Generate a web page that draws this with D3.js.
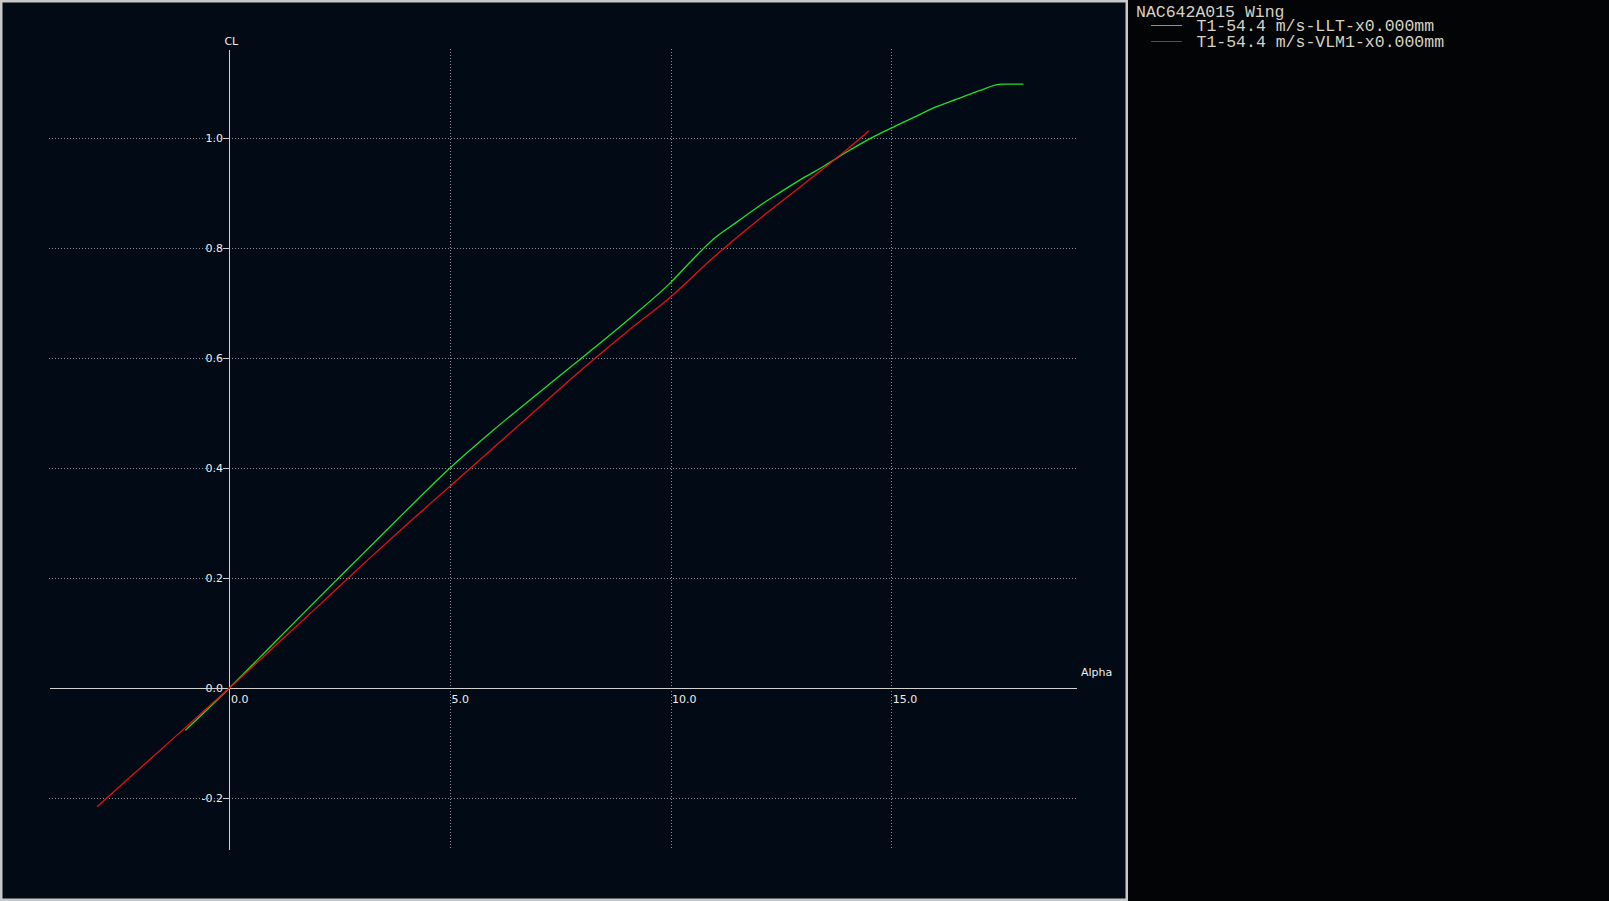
<!DOCTYPE html>
<head>
  <meta charset="utf-8">
  <title>CL vs Alpha</title>
  <script src="https://d3js.org/d3.v7.min.js"></script>
</head>
<body style="margin:0;background:#020406;">
  <script>
    // LLT polar (green)
    var lltAlpha = [-1, 0, 1, 2, 3, 4, 5, 6, 7, 8, 9, 10, 10.5, 11, 11.5, 12, 12.5, 13, 13.5, 14, 14.5, 15, 15.5, 16, 16.5, 17, 17.5, 18];
    var lltCL = [-0.077, 0, 0.081, 0.162, 0.242, 0.322, 0.400, 0.470, 0.536, 0.601, 0.667, 0.737, 0.779, 0.818, 0.847, 0.876, 0.902, 0.927, 0.950, 0.975, 0.998, 1.018, 1.037, 1.056, 1.071, 1.086, 1.098, 1.098];

    // VLM1 polar (red)
    var vlmAlpha = [-3, -2, -1, 0, 1, 2, 3, 4, 5, 6, 7, 8, 9, 10, 11, 12, 13, 14, 14.5];
    var vlmCL = [-0.216, -0.144, -0.072, 0, 0.074, 0.148, 0.223, 0.296, 0.367, 0.438, 0.509, 0.580, 0.647, 0.711, 0.785, 0.852, 0.915, 0.979, 1.013];

    var xTicks = [0, 5, 10, 15];
    var yTicks = [-0.2, 0, 0.2, 0.4, 0.6, 0.8, 1.0];

    var legendTitle = 'NAC642A015 Wing';
    var seriesNames = ['T1-54.4 m/s-LLT-x0.000mm', 'T1-54.4 m/s-VLM1-x0.000mm'];
    var seriesColors = ['#22e022', '#e81010'];

    var width = 1609;
    var height = 901;

    var svg = d3.select('body').append('svg')
      .attr('width', width).attr('height', height)
      .style('display', 'block');

    // plot panel
    svg.append('rect')
      .attr('x', 1.25).attr('y', 1.25)
      .attr('width', 1125.5).attr('height', 898.5)
      .attr('fill', '#010a15')
      .attr('stroke', '#c8c8c8')
      .attr('stroke-width', 2.5);

    var xscale = d3.scaleLinear().domain([-4.09, 19.19]).range([49, 1076]);
    var yscale = d3.scaleLinear().domain([-0.2927, 1.1618]).range([849, 49]);

    var x0 = Math.round(xscale(0)) + 0.5;
    var y0 = Math.round(yscale(0)) + 0.5;

    // plain hyphen for negatives, one decimal
    var fmt = function(d) {return d.toFixed(1);};

    // grid
    svg.append('g').selectAll('line')
      .data(yTicks.filter(function(d) {return d !== 0;}))
      .enter().append('line')
      .attr('x1', 49).attr('x2', 1076)
      .attr('y1', function(d) {return Math.round(yscale(d)) + 0.5;})
      .attr('y2', function(d) {return Math.round(yscale(d)) + 0.5;})
      .attr('stroke', '#8a8f96')
      .attr('stroke-dasharray', '1,2')
      .attr('shape-rendering', 'crispEdges');

    svg.append('g').selectAll('line')
      .data(xTicks.filter(function(d) {return d !== 0;}))
      .enter().append('line')
      .attr('y1', 49).attr('y2', 849)
      .attr('x1', function(d) {return Math.round(xscale(d)) + 0.5;})
      .attr('x2', function(d) {return Math.round(xscale(d)) + 0.5;})
      .attr('stroke', '#8a8f96')
      .attr('stroke-dasharray', '1,2')
      .attr('shape-rendering', 'crispEdges');

    // axes
    var axisy = d3.axisLeft(yscale)
      .tickValues(yTicks)
      .tickSize(6)
      .tickSizeOuter(0)
      .tickFormat(fmt);

    var gy = svg.append('g')
      .attr('transform', 'translate(' + (x0 - 0.5) + ',0)')
      .call(axisy);

    var axisx = d3.axisBottom(xscale)
      .tickValues(xTicks)
      .tickSize(0)
      .tickSizeOuter(0)
      .tickFormat(fmt);

    var gx = svg.append('g')
      .attr('transform', 'translate(0,' + (y0 - 0.5) + ')')
      .call(axisx);

    [gx, gy].forEach(function(g) {
      g.select('.domain').attr('stroke', '#d0d0d0').attr('shape-rendering', 'crispEdges');
      g.selectAll('.tick line').attr('stroke', '#d0d0d0').attr('shape-rendering', 'crispEdges');
      g.selectAll('.tick text')
        .attr('fill', '#eeeeee')
        .style('font-family', '"DejaVu Sans", Verdana, sans-serif')
        .style('font-size', '11px');
    });

    gy.selectAll('.tick text').attr('x', -6).attr('dy', '0.3em');
    gx.selectAll('.tick text')
      .attr('text-anchor', 'start')
      .attr('x', 1).attr('y', 15).attr('dy', 0);

    svg.append('text')
      .attr('x', xscale(0) - 5).attr('y', 45)
      .attr('fill', '#eeeeee')
      .style('font-family', '"DejaVu Sans", Verdana, sans-serif')
      .style('font-size', '11px')
      .text('CL');

    svg.append('text')
      .attr('x', 1081).attr('y', 676)
      .attr('fill', '#eeeeee')
      .style('font-family', '"DejaVu Sans", Verdana, sans-serif')
      .style('font-size', '11px')
      .text('Alpha');

    // curves
    var line = d3.line()
      .curve(d3.curveMonotoneX)
      .x(function(d) {return xscale(d[0]);})
      .y(function(d) {return yscale(d[1]);});

    var series = [d3.zip(lltAlpha, lltCL), d3.zip(vlmAlpha, vlmCL)];

    svg.append('g').selectAll('path')
      .data(series)
      .enter().append('path')
      .attr('d', line)
      .attr('fill', 'none')
      .attr('stroke', function(d, i) {return seriesColors[i];})
      .attr('stroke-width', 1.3);

    // legend
    var legend = svg.append('g')
      .style('font-family', '"Courier New", "Liberation Mono", monospace')
      .style('font-size', '16.5px')
      .attr('fill', '#d8d2c4');

    legend.append('text').attr('x', 1136).attr('y', 17).text(legendTitle);

    var legendY = [31, 47];
    seriesNames.forEach(function(name, i) {
      legend.append('line')
        .attr('x1', 1151).attr('x2', 1182)
        .attr('y1', legendY[i] - 5.5).attr('y2', legendY[i] - 5.5)
        .attr('stroke', seriesColors[i])
        .attr('stroke-width', 1);
      legend.append('text')
        .attr('x', 1196.5).attr('y', legendY[i])
        .text(name);
    });
  </script>
</body>
